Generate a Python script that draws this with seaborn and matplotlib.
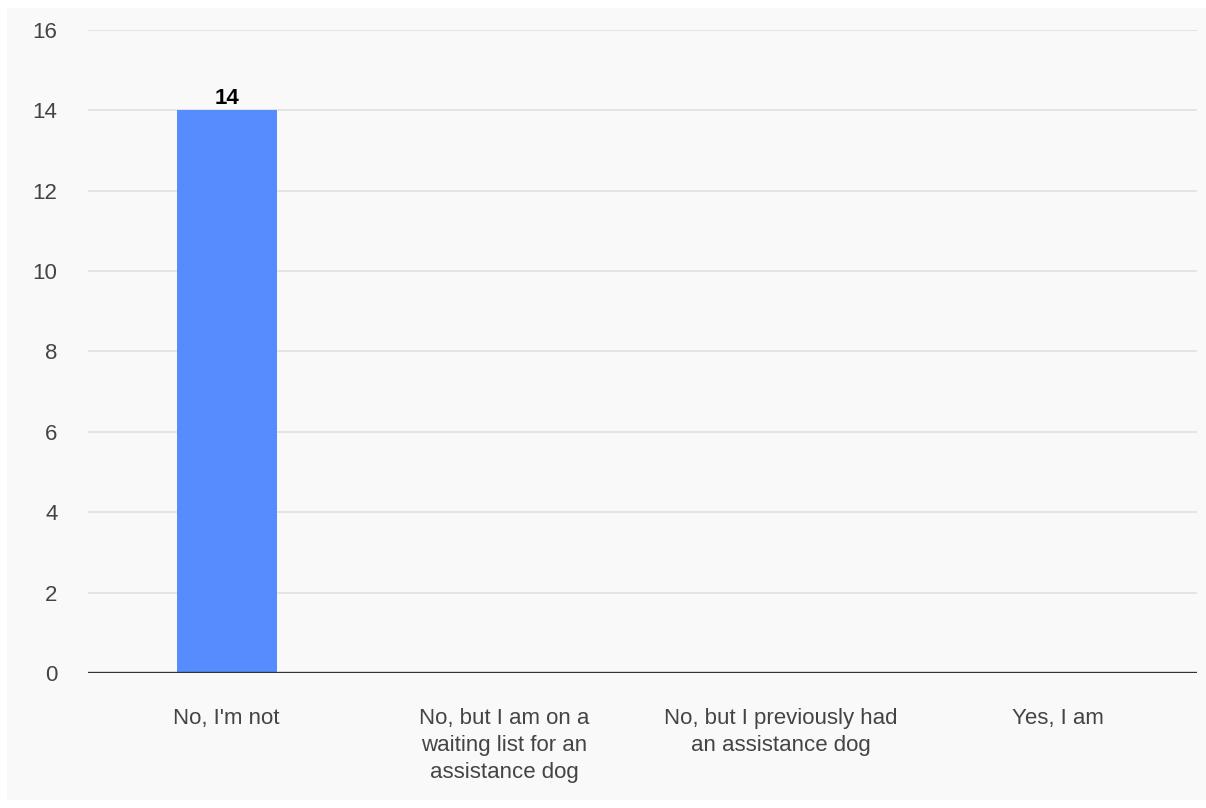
import pandas as pd
import matplotlib
matplotlib.use('Agg')
import matplotlib.pyplot as plt
import seaborn as sns

# survey answers and counts
answers = ["No, I'm not",
           "No, but I am on a\nwaiting list for an\nassistance dog",
           "No, but I previously had\nan assistance dog",
           "Yes, I am"]
counts = [14, 0, 0, 0]
y_ticks = [0, 2, 4, 6, 8, 10, 12, 14, 16]

df = pd.DataFrame({'answer': answers, 'count': counts})

sns.set_style('white')
plt.rcParams['font.family'] = ['Liberation Sans', 'DejaVu Sans']

fig = plt.figure(figsize=(12.06, 8.08), dpi=100, facecolor='white')
# light grey card behind the chart
fig.patches.append(plt.Rectangle((7 / 1206, 8 / 808), 1 - 7 / 1206, 1 - 16 / 808,
                                 transform=fig.transFigure, facecolor='#f9f9f9',
                                 edgecolor='none', zorder=-10))
ax = fig.add_axes([88 / 1206, 135 / 808, 1109 / 1206, 643 / 808])
ax.set_facecolor('#f9f9f9')

sns.barplot(data=df, x='answer', y='count', color='#578cff', width=0.36,
            saturation=1, linewidth=0, ax=ax, zorder=3)

ax.set_ylim(0, 16)
ax.set_yticks(y_ticks)
ax.yaxis.grid(True, color='#e2e2e2', linewidth=1.3, zorder=0)
ax.axhline(0, color='#333333', linewidth=2.4, zorder=4)
for s in ax.spines.values():
    s.set_visible(False)

ax.tick_params(axis='both', length=0, labelsize=16, labelcolor='#444444')
ax.tick_params(axis='y', pad=22)
ax.tick_params(axis='x', pad=25)
for lbl in ax.get_xticklabels():
    lbl.set_linespacing(1.38)
    lbl.set_verticalalignment('top')
ax.set_xlabel('')
ax.set_ylabel('')

# value label on the non-zero bar
for i, v in enumerate(counts):
    if v > 0:
        ax.text(i, v + 0.03, str(v), ha='center', va='bottom', fontsize=16,
                fontweight='bold', color='black')

fig.savefig('out.png', dpi=100, facecolor=fig.get_facecolor())
